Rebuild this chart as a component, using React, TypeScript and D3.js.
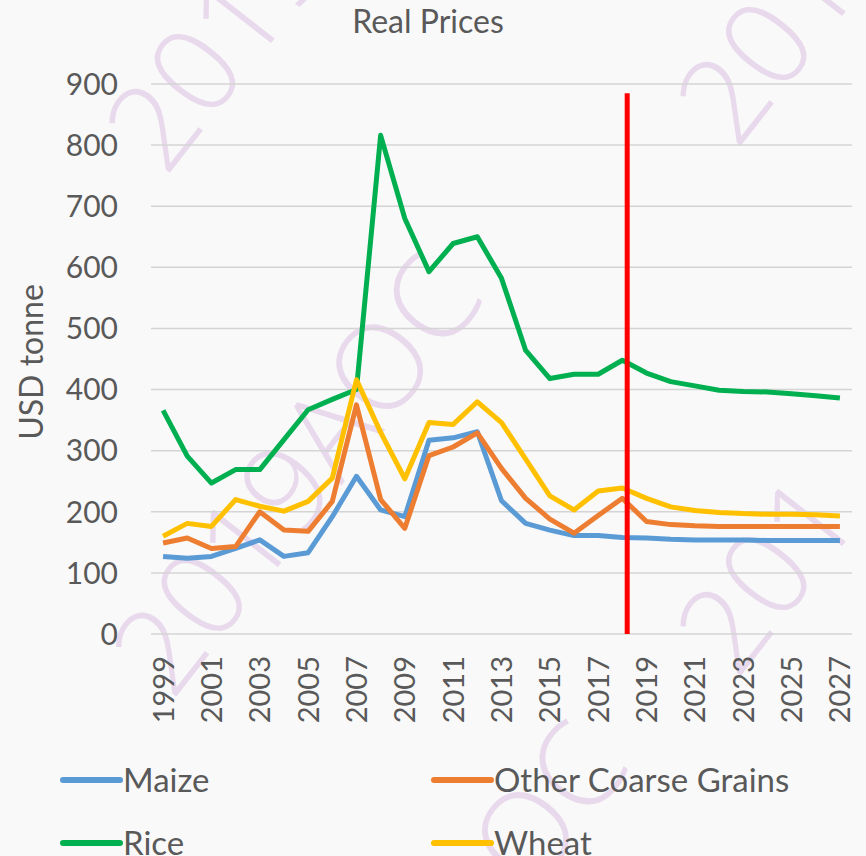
import React from "react";
import * as d3 from "d3";

const years = d3.range(1999, 2028);
const maize = [127,124,127,140,154,127,133,192,258,203,192,317,321,331,218,181,170,161,161,158,157,155,154,154,154,153,153,153,153];
const otherCoarse = [149,157,140,143,200,170,168,217,375,220,173,292,306,329,271,222,188,165,194,222,184,179,177,176,176,176,176,176,176];
const rice = [366,291,247,269,269,318,367,384,400,816,680,593,639,650,582,464,418,425,425,448,427,413,406,399,397,396,393,390,386];
const wheat = [160,181,176,220,209,201,217,255,416,330,254,346,343,380,346,286,226,203,234,239,222,208,202,199,197,196,196,195,193];
const yTicks = [0,100,200,300,400,500,600,700,800,900];
const xTickYears = d3.range(1999, 2028, 2);
const seriesNames = ["Maize", "Other Coarse Grains", "Rice", "Wheat"];
const seriesColors = ["#5B9BD5", "#ED7D31", "#00B050", "#FFC000"];
const seriesValues = [maize, otherCoarse, rice, wheat];
const projectionMarker = { year: 2018.2, top: 885 };
const watermarks = [
  { text: "2019", x: 250, y: 70, angle: -52 },
  { text: "201", x: 800, y: 70, angle: -52 },
  { text: "2019AOC", x: 330, y: 500, angle: -52 },
  { text: "201", x: 800, y: 600, angle: -52 },
  { text: "AOC", x: 560, y: 860, angle: -52 },
];

const W = 866, H = 856;
const font = "Lato, 'Open Sans', sans-serif";
const ink = "#595959";

export default function App() {
  const x = d3.scaleLinear().domain([1998.5, 2027.5]).range([151, 852]);
  const y = d3.scaleLinear().domain([0, 900]).range([634, 84]);
  const line = d3.line<number>().x((_, i) => x(years[i])).y((d) => y(d));

  return (
    <svg width={W} height={H} style={{ position: "absolute", left: 0, top: 0, background: "#f9f9f9" }} fontFamily={font}>
      <rect width={W} height={H} fill="#f9f9f9" />
      {watermarks.map((w, i) => (
        <text key={i} x={w.x} y={w.y} transform={`rotate(${w.angle},${w.x},${w.y})`} textAnchor="middle"
          fontSize={120} fill="#e8d9ec" fontWeight={300} fontFamily="'Open Sans', sans-serif">{w.text}</text>
      ))}
      <text x={428} y={33} textAnchor="middle" fontSize={32} fill={ink}>Real Prices</text>
      {yTicks.map((t) => (
        <g key={t}>
          <line x1={151} x2={852} y1={y(t)} y2={y(t)} stroke="#d4d4d4" strokeWidth={1.5} />
          <text x={118} y={y(t)} dy="0.36em" textAnchor="end" fontSize={30} fill={ink}>{t}</text>
        </g>
      ))}
      <text transform={`translate(43,362) rotate(-90)`} textAnchor="middle" fontSize={32} fill={ink}>USD tonne</text>
      {xTickYears.map((yr) => (
        <text key={yr} transform={`translate(${x(yr)},656) rotate(-90)`} textAnchor="end" dy="0.36em" fontSize={29} fill={ink}>{yr}</text>
      ))}
      {seriesValues.map((vals, i) => (
        <path key={i} d={line(vals) || ""} fill="none" stroke={seriesColors[i]} strokeWidth={5} strokeLinejoin="round" />
      ))}
      <line x1={x(projectionMarker.year)} x2={x(projectionMarker.year)} y1={y(projectionMarker.top)} y2={y(0)} stroke="#FF0000" strokeWidth={5} />
      {seriesNames.map((n, i) => {
        const lx = i % 2 === 0 ? 63 : 434;
        const ly = i < 2 ? 780 : 843;
        return (
          <g key={n}>
            <line x1={lx} x2={lx + 57} y1={ly} y2={ly} stroke={seriesColors[i]} strokeWidth={6} strokeLinecap="round" />
            <text x={lx + 60} y={ly} dy="0.36em" fontSize={33} fill={ink}>{n}</text>
          </g>
        );
      })}
    </svg>
  );
}
